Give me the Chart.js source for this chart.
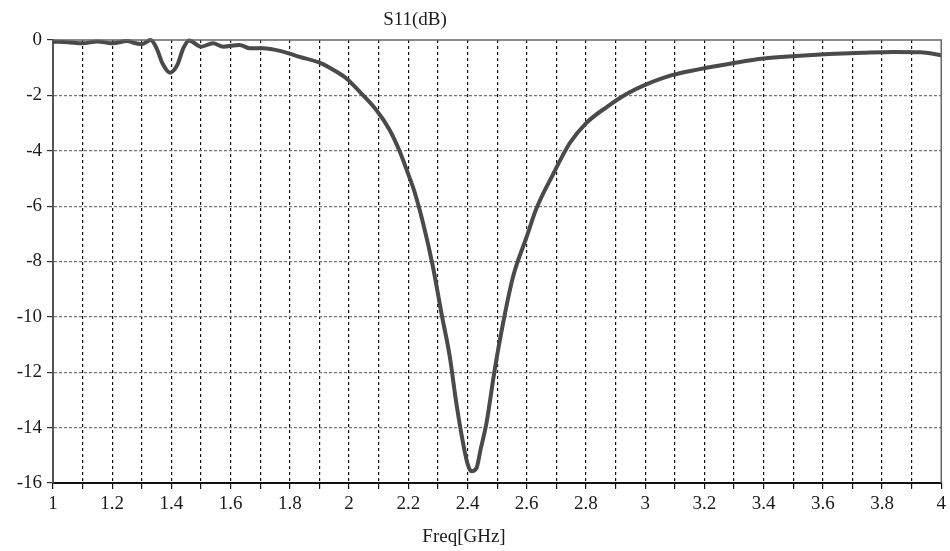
<!DOCTYPE html>
<html>
<head>
<meta charset="utf-8">
<script src="https://cdn.jsdelivr.net/npm/chart.js@4/dist/chart.umd.min.js"></script>
<style>
  html, body { margin: 0; padding: 0; background: #fff; }
  #wrap { width: 950px; height: 551px; }
</style>
</head>
<body>
<div id="wrap"><canvas id="c" width="950" height="551"></canvas></div>
<script>
const freqGHz = [1.00, 1.05, 1.10, 1.15, 1.20, 1.25, 1.28, 1.30, 1.33, 1.35, 1.37, 1.395, 1.42, 1.44, 1.46,
  1.50, 1.54, 1.575, 1.63, 1.665, 1.71, 1.776, 1.83, 1.90, 1.95, 1.99, 2.036, 2.092, 2.137, 2.17, 2.20, 2.22,
  2.25, 2.283, 2.312, 2.34, 2.362, 2.385, 2.40, 2.413, 2.43, 2.445, 2.464, 2.492, 2.52, 2.554, 2.60, 2.633, 2.689,
  2.745, 2.80, 2.87, 2.94, 3.00, 3.09, 3.18, 3.30, 3.40, 3.51, 3.62, 3.735, 3.84, 3.93, 4.00];
const s11dB = [-0.06, -0.08, -0.12, -0.05, -0.12, -0.04, -0.12, -0.15, 0.0, -0.3, -0.85, -1.18, -0.9, -0.3, -0.02,
  -0.24, -0.12, -0.24, -0.18, -0.3, -0.3, -0.42, -0.6, -0.82, -1.1, -1.38, -1.87, -2.53, -3.25, -4.0, -4.85, -5.45,
  -6.62, -8.18, -9.87, -11.43, -13.1, -14.56, -15.3, -15.58, -15.47, -14.75, -13.84, -11.9, -10.23, -8.54, -7.1, -6.08, -4.85,
  -3.73, -3.01, -2.42, -1.93, -1.62, -1.27, -1.06, -0.83, -0.67, -0.58, -0.51, -0.46, -0.43, -0.44, -0.55];
const chartTitle = 'S11(dB)';
const xAxisTitle = 'Freq[GHz]';
const xRange = [1, 4];
const yRange = [-16, 0];

const points = freqGHz.map((f, i) => ({ x: f, y: s11dB[i] }));
const FONT = '"Liberation Serif", "DejaVu Serif", serif';

const framePlugin = {
  id: 'frame',
  afterDraw(chart) {
    const { ctx, chartArea: a } = chart;
    ctx.save();
    ctx.setLineDash([]);
    ctx.strokeStyle = '#666';
    ctx.lineWidth = 1.5;
    ctx.beginPath();
    ctx.moveTo(a.left, a.top); ctx.lineTo(a.right, a.top); ctx.lineTo(a.right, a.bottom);
    ctx.stroke();
    ctx.fillStyle = '#1a1a1a';
    ctx.font = '19px ' + FONT;
    ctx.textAlign = 'center';
    ctx.textBaseline = 'middle';
    ctx.fillText(chartTitle, 415, 20);
    ctx.fillText(xAxisTitle, 464, 537);
    ctx.restore();
  }
};

new Chart(document.getElementById('c'), {
  type: 'line',
  data: {
    datasets: [{
      data: points,
      borderColor: '#4a4a4a',
      borderWidth: 4,
      pointRadius: 0,
      fill: false,
      cubicInterpolationMode: 'monotone',
      clip: 4
    }]
  },
  options: {
    responsive: false,
    animation: false,
    events: [],
    layout: { padding: { top: 40, right: 8, left: 0, bottom: 0 } },
    plugins: { legend: { display: false }, tooltip: { enabled: false }, title: { display: false } },
    scales: {
      x: {
        type: 'linear',
        min: xRange[0], max: xRange[1],
        afterFit(s) { s.height = 68; },
        afterBuildTicks(s) {
          const t = [];
          for (let k = 10; k <= 40; k++) t.push({ value: k / 10 });
          s.ticks = t;
        },
        ticks: {
          autoSkip: false, maxRotation: 0, padding: 4,
          color: '#1a1a1a',
          font: { family: FONT, size: 19 },
          callback(v) {
            const k = Math.round(v * 10);
            return k % 2 === 0 ? String(k / 10) : '';
          }
        },
        grid: {
          color: (ctx) => (ctx.tick && (Math.abs(ctx.tick.value - 1) < 1e-6 || Math.abs(ctx.tick.value - 4) < 1e-6)) ? 'rgba(0,0,0,0)' : '#111',
          lineWidth: 1.2,
          tickColor: '#111',
          tickLength: 6,
          tickBorderDash: []
        },
        border: { display: true, color: '#111', width: 2, dash: [3, 3] }
      },
      y: {
        type: 'linear',
        min: yRange[0], max: yRange[1],
        afterFit(s) { s.width = 53; },
        ticks: {
          stepSize: 2,
          padding: 5,
          color: '#1a1a1a',
          font: { family: FONT, size: 19 }
        },
        grid: {
          color: (ctx) => (ctx.tick && (ctx.tick.value === 0 || ctx.tick.value === -16)) ? 'rgba(0,0,0,0)' : '#777',
          lineWidth: 1.2,
          tickColor: '#333',
          tickLength: 6,
          tickBorderDash: []
        },
        border: { display: true, color: '#555', width: 2, dash: [3, 2] }
      }
    }
  },
  plugins: [framePlugin]
});
</script>
</body>
</html>
